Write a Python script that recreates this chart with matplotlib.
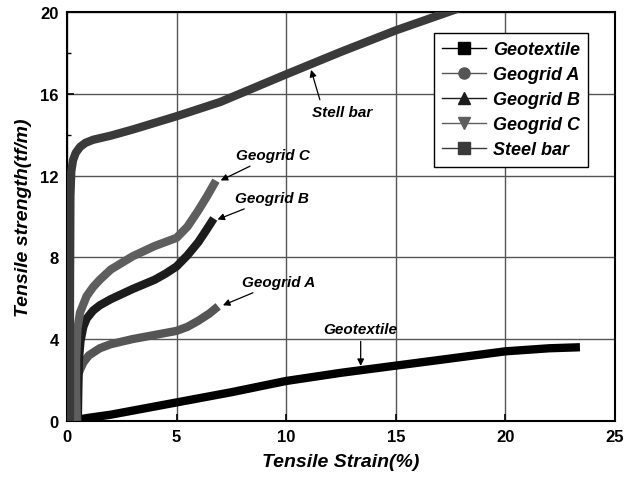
import matplotlib.pyplot as plt
from matplotlib.lines import Line2D
import numpy as np

plt.rcParams['font.family'] = 'Liberation Sans'

# strain (%) / strength (tf/m)
geotextile_x = [0.45, 1, 2, 3, 4, 5, 7.5, 10, 12.5, 15, 17.5, 20, 22, 23.4]
geotextile_y = [0.05, 0.15, 0.3, 0.5, 0.7, 0.9, 1.4, 1.95, 2.35, 2.7, 3.05, 3.4, 3.55, 3.6]

geogridA_x = [0.5, 0.45, 0.42, 0.45, 0.6, 0.75, 1.0, 1.5, 2.0, 3.0, 4.0, 4.5, 5.0, 5.5, 6.0, 6.5, 6.9]
geogridA_y = [0.0, 0.8, 1.6, 2.1, 2.5, 2.85, 3.2, 3.55, 3.75, 4.0, 4.2, 4.3, 4.4, 4.6, 4.9, 5.25, 5.6]

geogridB_x = [0.5, 0.52, 0.55, 0.62, 0.75, 0.9, 1.2, 1.5, 2.0, 3.0, 4.0, 4.5, 5.0, 5.5, 6.0, 6.4, 6.7]
geogridB_y = [0.0, 1.5, 3.0, 3.9, 4.6, 5.0, 5.4, 5.65, 5.95, 6.45, 6.9, 7.2, 7.55, 8.1, 8.75, 9.4, 9.9]

geogridC_x = [0.45, 0.42, 0.42, 0.48, 0.6, 0.9, 1.2, 1.5, 2.0, 3.0, 4.0, 4.5, 5.0, 5.5, 6.0, 6.4, 6.8]
geogridC_y = [0.0, 1.5, 3.0, 4.5, 5.3, 6.1, 6.55, 6.9, 7.4, 8.05, 8.55, 8.75, 8.95, 9.5, 10.3, 11.0, 11.75]

steel_x = [0.14, 0.14, 0.16, 0.2, 0.28, 0.4, 0.6, 0.85, 1.2, 2.0, 3.0, 5.0, 7.0, 10.0, 12.5, 15.0, 18.2]
steel_y = [0.0, 6.0, 11.0, 12.2, 12.75, 13.1, 13.4, 13.6, 13.75, 13.95, 14.25, 14.9, 15.6, 16.95, 18.05, 19.1, 20.3]

labels = ['Geotextile', 'Geogrid A', 'Geogrid B', 'Geogrid C', 'Steel bar']
colors = ['#000000', '#555555', '#1c1c1c', '#5e5e5e', '#3a3a3a']
markers = ['s', 'o', '^', 'v', 's']

fig = plt.figure(figsize=(6.37, 4.81), dpi=100)
ax = fig.add_axes([0.105, 0.123, 0.8605, 0.85])

series = [(geotextile_x, geotextile_y), (geogridA_x, geogridA_y),
          (geogridB_x, geogridB_y), (geogridC_x, geogridC_y), (steel_x, steel_y)]
for (x, y), c in zip(series, colors):
    ax.plot(x, y, color=c, lw=6.0, solid_capstyle='butt', solid_joinstyle='round', zorder=3)

ax.set_xlim(0, 25)
ax.set_ylim(0, 20)
ax.set_xticks([0, 5, 10, 15, 20, 25])
ax.set_yticks([0, 4, 8, 12, 16, 20])
ax.set_yticks([2, 6, 10, 14, 18], minor=True)
ax.grid(True, color='#555555', lw=1.0)
ax.tick_params(direction='in', length=5, width=1.2, labelsize=12, pad=6)
ax.tick_params(which='minor', direction='in', length=3, width=1.0)
for lab in ax.get_xticklabels() + ax.get_yticklabels():
    lab.set_fontweight('bold')
for s in ax.spines.values():
    s.set_linewidth(1.5)

ax.set_xlabel('Tensile Strain(%)', fontsize=14, fontweight='bold', style='italic', labelpad=6)
ax.set_ylabel('Tensile strength(tf/m)', fontsize=14, fontweight='bold', style='italic', labelpad=6)

handles = [Line2D([], [], color=c, marker=m, markersize=8, lw=1.0)
           for c, m in zip(colors, markers)]
leg = ax.legend(handles, labels, loc='upper right', bbox_to_anchor=(0.951, 0.949),
                borderaxespad=0, fancybox=False, framealpha=1, edgecolor='black',
                handlelength=2.4, prop={'weight': 'bold', 'style': 'italic', 'size': 13},
                labelspacing=0.45, borderpad=0.45, handletextpad=0.4)
leg.get_frame().set_linewidth(1.0)

ann = dict(fontsize=11, fontweight='bold', style='italic')
arrow = dict(arrowstyle='-|>', color='black', lw=0.9, mutation_scale=10)
ax.annotate('Geogrid C', xy=(6.9, 11.7), xytext=(7.7, 12.8), arrowprops=arrow, **ann)
ax.annotate('Geogrid B', xy=(6.75, 9.8), xytext=(7.65, 10.7), arrowprops=arrow, **ann)
ax.annotate('Geogrid A', xy=(7.0, 5.6), xytext=(8.0, 6.6), arrowprops=arrow, **ann)
ax.annotate('Geotextile', xy=(13.4, 2.55), xytext=(13.4, 4.5), ha='center', va='center',
            arrowprops=dict(arrow, relpos=(0.5, 0.0)), **ann)
ax.annotate('Stell bar', xy=(11.1, 17.3), xytext=(11.2, 14.9),
            arrowprops=dict(arrow, relpos=(0.15, 1.0)), **ann)

fig.savefig('out.png', dpi=100)
